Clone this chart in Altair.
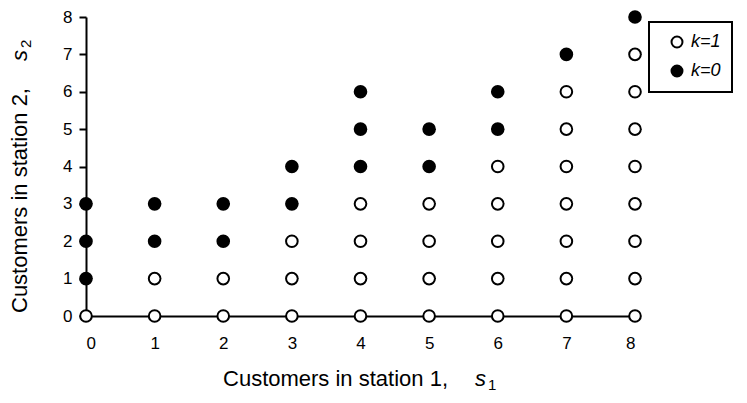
import altair as alt
import pandas as pd

# ---- data ----
s1_values = [0, 1, 2, 3, 4, 5, 6, 7, 8]
open_s2 = [[0], [0, 1], [0, 1], [0, 1, 2], [0, 1, 2, 3], [0, 1, 2, 3],
           [0, 1, 2, 3, 4], [0, 1, 2, 3, 4, 5, 6], [0, 1, 2, 3, 4, 5, 6, 7]]
filled_s2 = [[1, 2, 3], [2, 3], [2, 3], [3, 4], [4, 5, 6], [4, 5], [5, 6], [7], [8]]
state_labels = ["k=1", "k=0"]
tick_values = [0, 1, 2, 3, 4, 5, 6, 7, 8]
x_title = ["Customers in station 1,", "s", "1"]
y_title = ["Customers in station 2,", "s", "2"]

rows = []
for s1, ys in zip(s1_values, open_s2):
    for s2 in ys:
        rows.append({"s1": s1, "s2": s2, "k": state_labels[0]})
for s1, ys in zip(s1_values, filled_s2):
    for s2 in ys:
        rows.append({"s1": s1, "s2": s2, "k": state_labels[1]})
df = pd.DataFrame(rows)

FONT = "Liberation Sans"
W, H = 549, 299
TFS = 22

points = alt.Chart(df).mark_point(
    filled=True, size=135, stroke="black", strokeWidth=2, opacity=1, shape="circle"
).encode(
    x=alt.X("s1:Q", scale=alt.Scale(domain=[0, 8], nice=False, zero=False),
            axis=alt.Axis(values=tick_values, title=None, ticks=False, tickSize=0,
                          domainColor="black", domainWidth=2, grid=False,
                          labelFont=FONT, labelFontSize=17, labelColor="black",
                          labelPadding=19, format="d")),
    y=alt.Y("s2:Q", scale=alt.Scale(domain=[0, 8], nice=False, zero=False),
            axis=alt.Axis(values=tick_values, title=None, ticks=True, tickSize=7,
                          tickWidth=2, tickColor="black",
                          domainColor="black", domainWidth=2, grid=False,
                          labelFont=FONT, labelFontSize=17, labelColor="black",
                          labelPadding=7, format="d")),
    fill=alt.Fill("k:N", scale=alt.Scale(domain=state_labels, range=["white", "black"]),
                  legend=alt.Legend(orient="none", legendX=563, legendY=5, title=None,
                                    strokeColor="black", fillColor="white", padding=11,
                                    symbolOffset=8, symbolType="circle", symbolSize=120,
                                    symbolStrokeColor="black", symbolStrokeWidth=2,
                                    labelFont=FONT, labelFontSize=18, labelFontStyle="italic",
                                    labelColor="black", labelOffset=5, rowPadding=9,
                                    labelExpr="datum.label + '\u00a0\u00a0\u00a0\u00a0\u00a0\u00a0\u00a0'")),
)

def txt(s, x, y, size, style="normal", angle=0, align="left"):
    return alt.Chart(pd.DataFrame({"t": [s]})).mark_text(
        font=FONT, fontSize=size, fontStyle=style, angle=angle, align=align,
        baseline="alphabetic", color="black"
    ).encode(text="t:N", x=alt.value(x), y=alt.value(y))

titles = [
    txt(x_title[0], 362, 369, TFS, align="right"),
    txt(x_title[1], 389, 369, TFS, style="italic"),
    txt(x_title[2], 402, 373, 15),
    txt(y_title[0], -59, 296, TFS, angle=270, align="left"),
    txt(y_title[1], -59, 44, TFS, style="italic", angle=270, align="left"),
    txt(y_title[2], -55, 31, 15, angle=270, align="left"),
]

chart = alt.layer(points, *titles).properties(
    width=W, height=H,
    autosize=alt.AutoSizeParams(type="none"),
    padding={"left": 78, "top": 9, "right": 104, "bottom": 79},
).configure_view(stroke=None).configure_legend(strokeWidth=2)

chart.save("out.html", embed_options={"renderer": "svg", "actions": False})
